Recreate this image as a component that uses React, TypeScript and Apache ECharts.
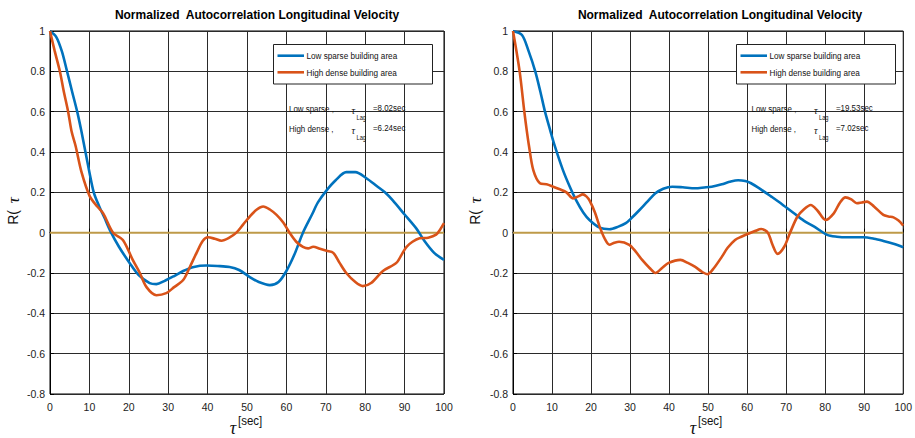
import React, { useEffect, useRef } from "react";
import * as echarts from "echarts";

const FONT = "'Liberation Sans', Arial, Helvetica, sans-serif";
const TITLE = "Normalized  Autocorrelation Longitudinal Velocity";
const SERIES_NAMES = ["Low sparse building area", "High dense building area"];
const COLORS = ["#0072BD", "#D95319"];
const ZERO_COLOR = "#BE9A48";

// Left panel: lag (s) vs normalized autocorrelation
const lowSparseLeft: [number, number][] = [
  [0, 1], [1.6, 0.97], [3, 0.9], [4.2, 0.81], [5.6, 0.7], [6.9, 0.6], [8, 0.5], [9, 0.4],
  [10, 0.3], [11.1, 0.2], [12.5, 0.13], [13.8, 0.075], [15.2, 0.013], [17.5, -0.07],
  [20.2, -0.15], [22.5, -0.21], [25.3, -0.25], [27, -0.255], [29, -0.24], [31.5, -0.215],
  [33.8, -0.19], [36.5, -0.17], [39.7, -0.163], [42.5, -0.165], [45.6, -0.17], [48, -0.185],
  [50.7, -0.22], [53, -0.245], [55.8, -0.26], [58, -0.245], [60, -0.19], [62, -0.11],
  [64.2, 0], [66.5, 0.09], [68, 0.15], [70.2, 0.21], [72.5, 0.26], [75.2, 0.3], [77.5, 0.3],
  [80.3, 0.27], [83, 0.23], [85, 0.2], [87, 0.16], [90, 0.09], [93, 0.02], [95, -0.04],
  [97.5, -0.1], [100, -0.135],
];
const highDenseLeft: [number, number][] = [
  [0, 1], [1.2, 0.9], [2.5, 0.8], [3.5, 0.7], [4.6, 0.6], [5.5, 0.5], [6.5, 0.43], [8, 0.3],
  [10.1, 0.18], [12, 0.13], [13.5, 0.096], [16, 0], [18.5, -0.036], [21, -0.135], [22.8, -0.2],
  [24.5, -0.27], [27, -0.31], [29.5, -0.3], [31.5, -0.27], [33.8, -0.235], [35.5, -0.17],
  [37.2, -0.1], [38.8, -0.04], [40.1, -0.023], [41.8, -0.03], [43.5, -0.04], [45.5, -0.025],
  [47.3, 0], [49, 0.04], [50.7, 0.08], [52.5, 0.115], [54.1, 0.13], [55.8, 0.115], [57.5, 0.088],
  [59.2, 0.05], [60.8, 0], [62.5, -0.045], [64.2, -0.07], [65.5, -0.078], [66.8, -0.07],
  [68.5, -0.08], [70.2, -0.09], [71.9, -0.1], [73.5, -0.15], [75.2, -0.2], [77.5, -0.245],
  [79.4, -0.265], [81.5, -0.25], [84.5, -0.19], [87.9, -0.15], [89.5, -0.1], [90.5, -0.07],
  [92, -0.045], [93.8, -0.028], [96, -0.025], [98, -0.01], [99, 0.015], [100, 0.047],
];

// Right panel
const lowSparseRight: [number, number][] = [
  [0, 1], [2.3, 0.98], [4, 0.9], [5.7, 0.8], [7, 0.7], [8.2, 0.6], [9.5, 0.51], [10.7, 0.43],
  [12.8, 0.31], [14.5, 0.23], [16.2, 0.16], [18, 0.1], [19.6, 0.063], [22.2, 0.025],
  [24.7, 0.017], [27, 0.03], [28.9, 0.047], [30.5, 0.075], [32.3, 0.11], [34.5, 0.155],
  [36.5, 0.195], [38.5, 0.218], [40.8, 0.228], [43.5, 0.225], [46.7, 0.22], [49, 0.224],
  [50.9, 0.228], [53.5, 0.24], [55.5, 0.252], [57.7, 0.26], [59.5, 0.256], [61, 0.245],
  [63.5, 0.215], [66.1, 0.18], [69, 0.14], [72, 0.096], [74.5, 0.06], [77.2, 0.03],
  [80.5, -0.011], [83, -0.02], [85.6, -0.023], [89.8, -0.023], [92.5, -0.03], [94.9, -0.041],
  [97.5, -0.055], [100, -0.072],
];
const highDenseRight: [number, number][] = [
  [0, 1], [1.7, 0.8], [2.9, 0.6], [3.5, 0.51], [4.1, 0.43], [5.2, 0.31], [6.9, 0.245],
  [8.6, 0.24], [10.3, 0.228], [12, 0.215], [13.7, 0.2], [15.4, 0.17], [16.7, 0.18],
  [17.9, 0.19], [18.8, 0.18], [19.6, 0.16], [21, 0.1], [22.2, 0.03], [23.5, -0.03],
  [24.7, -0.06], [26, -0.05], [27.2, -0.045], [29.8, -0.06], [31.5, -0.095], [33.1, -0.135],
  [35, -0.175], [36.5, -0.2], [38.2, -0.175], [39.9, -0.15], [42.9, -0.135], [44.8, -0.15],
  [46.7, -0.17], [48.5, -0.195], [49.8, -0.206], [51.5, -0.175], [53.5, -0.12], [55, -0.075],
  [56.9, -0.036], [58.5, -0.02], [60.2, -0.006], [62, 0.008], [63.6, 0.018], [65.3, 0],
  [66.5, -0.06], [67.8, -0.105], [69.5, -0.07], [71, 0], [72.9, 0.08], [74.5, 0.115],
  [76.3, 0.137], [78, 0.11], [80.1, 0.063], [82.2, 0.096], [83.8, 0.15], [85.2, 0.175],
  [86.7, 0.165], [88.1, 0.146], [89.4, 0.15], [90.7, 0.154], [92.5, 0.13], [94.9, 0.088],
  [96.2, 0.08], [97.5, 0.076], [98.8, 0.06], [100, 0.035],
];

const zeroLine: [number, number][] = [[0, 0], [100, 0]];
const lagValues = [
  ["=8.02sec", "=6.24sec"],
  ["=19.53sec", "=7.02sec"],
];
const lagRowLabels = ["Low sparse ,", "High dense ,"];

const GRIDS = [
  { left: 50, top: 31, width: 394, height: 363 },
  { left: 513, top: 31, width: 394, height: 363 },
];

function txt(x: number, y: number, text: string, size: number, extra: any = {}) {
  const { style, ...rest } = extra;
  return {
    type: "text",
    x,
    y,
    z: 100,
    ...rest,
    style: {
      text,
      fontSize: size,
      fontFamily: FONT,
      fill: "#111",
      align: "left",
      textAlign: "left",
      verticalAlign: "middle",
      textVerticalAlign: "middle",
      ...(style || {}),
    },
  };
}

function panelGraphics(i: number) {
  const g = GRIDS[i];
  const right = g.left + g.width;
  const boxLeft = right - 170.5;
  const boxW = 159;
  const annX = i === 0 ? 289 : 751.5;
  const tauX = i === 0 ? 351.5 : 814;
  const valX = i === 0 ? 373 : 836;
  const cx = g.left + g.width / 2;
  const els: any[] = [];
  // title
  els.push(
    txt(cx + 10, 15, TITLE, 12, {
      style: { fontWeight: "bold", align: "center", textAlign: "center", fill: "#000" },
    })
  );
  // legend box
  els.push({
    type: "rect",
    z: 90,
    shape: { x: boxLeft, y: 44.5, width: boxW, height: 39.5 },
    style: { fill: "#fff", stroke: "#222", lineWidth: 1 },
  });
  [55.7, 72.3].forEach((yy, k) => {
    els.push({
      type: "line",
      z: 95,
      shape: { x1: boxLeft + 4, y1: yy, x2: boxLeft + 30.5, y2: yy },
      style: { stroke: COLORS[k], lineWidth: 2.6 },
    });
    els.push(txt(boxLeft + 33, yy, SERIES_NAMES[k], 9.5, { scaleX: 0.86 }));
  });
  // lag annotations
  [108.5, 128.5].forEach((yy, k) => {
    els.push(txt(annX, yy, lagRowLabels[k], 9, { scaleX: 0.88 }));
    els.push(
      txt(tauX, yy + 2, "τ", 10, {
        style: { fontStyle: "italic", fontFamily: "'Liberation Serif', serif" },
      })
    );
    els.push(txt(tauX + 5, yy + 8.5, "Lag", 6.5, { scaleX: 0.88 }));
    els.push(txt(valX, yy - 1, lagValues[i][k], 9, { scaleX: 0.88 }));
  });
  // x axis name: τ [sec]
  const tauCx = i === 0 ? 233 : 693;
  els.push(
    txt(tauCx, 428, "τ", 18, {
      style: {
        fontStyle: "italic",
        fontFamily: "'Liberation Serif', serif",
        align: "center",
        textAlign: "center",
      },
    })
  );
  els.push(txt(tauCx + 5, 421, "[sec]", 12.5, { scaleX: 0.92 }));
  // y axis name
  els.push({
    type: "text",
    x: i === 0 ? 13 : 475,
    y: 211,
    rotation: Math.PI / 2,
    z: 100,
    style: {
      text: "{a|R(}  {b|τ}",
      align: "center",
      textAlign: "center",
      verticalAlign: "middle",
      textVerticalAlign: "middle",
      rich: {
        a: { fontSize: 14, fontFamily: FONT, fill: "#111" },
        b: { fontSize: 17, fontFamily: "'Liberation Serif', serif", fontStyle: "italic", fill: "#111" },
      },
    },
  });
  return els;
}

export default function App() {
  const ref = useRef<HTMLDivElement>(null);
  useEffect(() => {
    if (!ref.current) return;
    const chart = echarts.init(ref.current, null, { renderer: "svg" });
    const axisCommon = {
      type: "value",
      axisLine: { show: true, lineStyle: { color: "#000", width: 1 } },
      axisTick: { show: true, inside: true, length: 4, lineStyle: { color: "#000" } },
      splitLine: { show: true, lineStyle: { color: "#2a2a2a", width: 1 } },
    };
    const xAxes = GRIDS.map((_, i) => ({
      ...axisCommon,
      gridIndex: i,
      min: 0,
      max: 100,
      interval: 10,
      axisLabel: { color: "#222", fontSize: 10.5, fontFamily: FONT, margin: 7 },
    }));
    const yAxes = GRIDS.map((_, i) => ({
      ...axisCommon,
      gridIndex: i,
      min: -0.8,
      max: 1,
      interval: 0.2,
      axisLabel: {
        color: "#222",
        fontSize: 10.5,
        fontFamily: FONT,
        margin: 5,
        formatter: (v: number) => String(Math.round(v * 10) / 10),
      },
    }));
    const panels = [
      [lowSparseLeft, highDenseLeft],
      [lowSparseRight, highDenseRight],
    ];
    const series: any[] = [];
    panels.forEach((pair, i) => {
      series.push({
        type: "line",
        name: "zero",
        xAxisIndex: i,
        yAxisIndex: i,
        data: zeroLine,
        showSymbol: false,
        z: 1,
        lineStyle: { color: ZERO_COLOR, width: 2 },
        silent: true,
      });
      pair.forEach((data, k) => {
        series.push({
          type: "line",
          name: SERIES_NAMES[k],
          xAxisIndex: i,
          yAxisIndex: i,
          data,
          showSymbol: false,
          smooth: 0.3,
          z: 3,
          lineStyle: { color: COLORS[k], width: 2.6 },
          itemStyle: { color: COLORS[k] },
        });
      });
    });
    chart.setOption({
      animation: false,
      backgroundColor: "#fff",
      grid: GRIDS.map((g) => ({ ...g, show: true, borderColor: "#000", borderWidth: 1, backgroundColor: "transparent" })),
      xAxis: xAxes,
      yAxis: yAxes,
      series,
      graphic: [...panelGraphics(0), ...panelGraphics(1)],
    });
    return () => chart.dispose();
  }, []);
  return (
    <div
      ref={ref}
      style={{ position: "absolute", left: 0, top: 0, width: 915, height: 438 }}
    />
  );
}
